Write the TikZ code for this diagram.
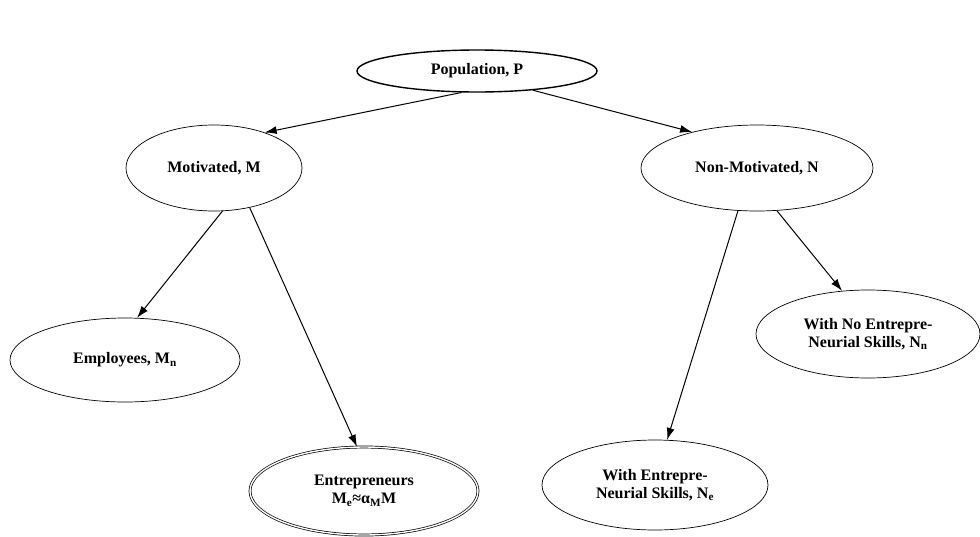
\documentclass[tikz,border=0pt]{standalone}
\usepackage{fontspec}
\setmainfont{Liberation Serif}
\usetikzlibrary{arrows.meta,shapes.geometric}

\begin{document}
\begin{tikzpicture}[x=1pt, y=-1pt, font=\bfseries\fontsize{16}{18}\selectfont]
        \tikzstyle{group}=[ellipse,draw=black,line width=0.7pt,inner sep=0pt,align=center,minimum width=228pt,minimum height=86pt]
        \tikzstyle{link}=[-{Latex[length=12pt,width=8pt]},line width=1pt]

        \useasboundingbox (0,0) rectangle (980,536);

        % Draw the whole population
        \node[group,line width=1.4pt,minimum width=240pt,minimum height=42pt] (P) at (477,71) {Population, P};

        % Draw the two subgroups
        \node[group,minimum width=176pt] (M) at (214,168) {Motivated, M};
        \node[group,minimum width=232pt] (N) at (757,168) {Non-Motivated, N};

        % Draw the leaves
        \node[group,minimum width=230pt,minimum height=84pt] (Mn) at (125,360) {Employees, M\textsubscript{n}};
        \node[group,double,double distance=1.4pt,minimum height=88pt] (Me) at (364,491) {Entrepreneurs\\M\textsubscript{e}≈α\textsubscript{M}M};
        \node[group,minimum width=226pt,minimum height=90pt] (Ne) at (655,485) {With Entrepre-\\Neurial Skills, N\textsubscript{e}};
        \node[group,minimum width=224pt,minimum height=88pt] (Nn) at (868,334) {With No Entrepre-\\Neurial Skills, N\textsubscript{n}};

        % Connect every node with its subgroups
        \foreach \source / \dest in {P.234/M.35, P.341/N.151, M.281/Mn.74, M.312/Me.99, N.246/Ne.75, N.295/Nn.121}
            \draw[link] (\source) -- (\dest);
\end{tikzpicture}
\end{document}
